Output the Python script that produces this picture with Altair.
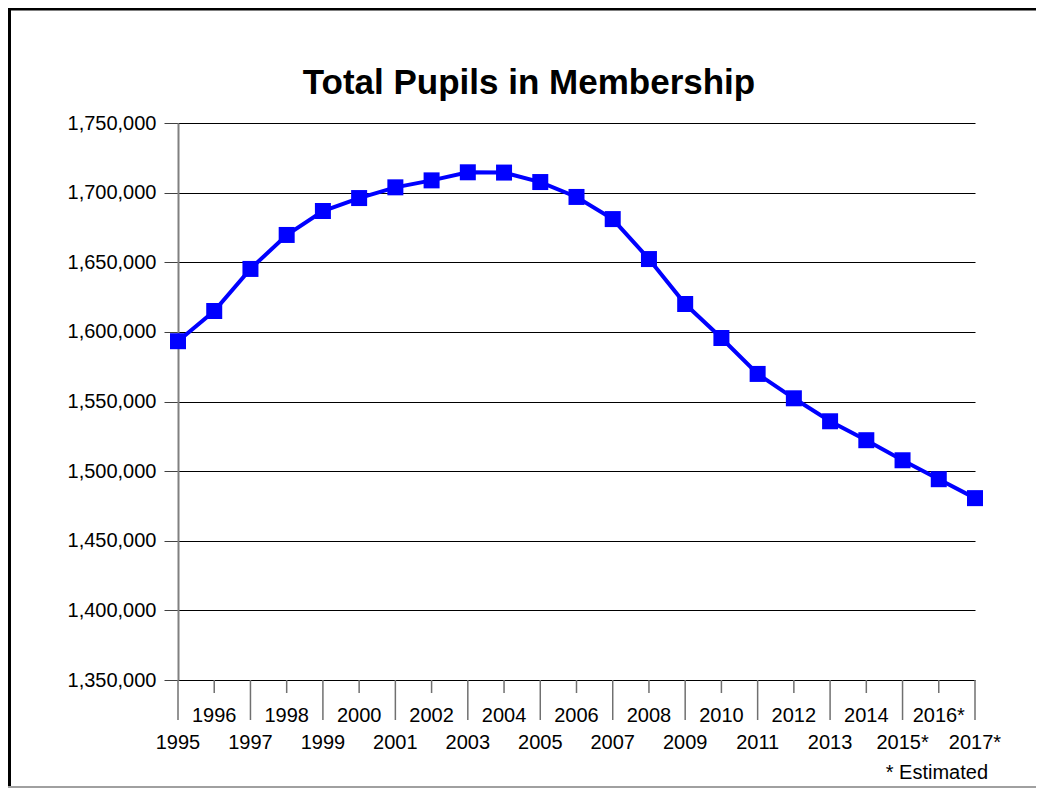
import altair as alt
import pandas as pd

years = ["1995", "1996", "1997", "1998", "1999", "2000", "2001", "2002", "2003",
         "2004", "2005", "2006", "2007", "2008", "2009", "2010", "2011", "2012",
         "2013", "2014", "2015*", "2016*", "2017*"]
pupils = [1593300, 1615000, 1645200, 1669600, 1686800, 1696100, 1703800, 1708800,
          1714600, 1714400, 1707600, 1696900, 1681000, 1652300, 1620000, 1595600,
          1569800, 1552300, 1535800, 1522200, 1507800, 1494200, 1480600]
y_ticks = [1350000, 1400000, 1450000, 1500000, 1550000, 1600000, 1650000, 1700000, 1750000]
title_text = "Total Pupils in Membership"
note_text = "* Estimated"

df = pd.DataFrame({"idx": list(range(len(years))), "year": years, "pupils": pupils})

W, H = 797, 557
FONT = "Liberation Sans"

xscale = alt.Scale(domain=[0, len(years) - 1], nice=False, zero=False)
yscale = alt.Scale(domain=[y_ticks[0], y_ticks[-1]], nice=False, zero=False)

yaxis = alt.Axis(values=y_ticks, format=",d", grid=True, gridColor="black",
                 gridWidth=1, gridOpacity=1, domainColor="#808080", domainWidth=2,
                 tickColor="#404040", tickSize=14, labelPadding=8,
                 labelFontSize=20, labelFont=FONT, labelColor="black",
                 labelOverlap=False, labelFlush=False, title=None)

X = alt.X("idx:Q", scale=xscale, axis=None)
Y = alt.Y("pupils:Q", scale=yscale, axis=yaxis)

base = alt.Chart(df)

line = base.mark_line(color="#0000FF", strokeWidth=4).encode(x=X, y=Y)
points = base.mark_point(shape="square", filled=True, size=256, opacity=1,
                         color="#0000FF").encode(x=X, y=Y)

long_ticks = base.transform_filter("datum.idx % 2 == 0").mark_rule(
    color="#707070", strokeWidth=1.5).encode(x=X, y=alt.value(H), y2=alt.value(H + 40))
short_ticks = base.transform_filter("datum.idx % 2 == 1").mark_rule(
    color="#707070", strokeWidth=1.5).encode(x=X, y=alt.value(H), y2=alt.value(H + 13))

upper_labels = base.transform_filter("datum.idx % 2 == 1").mark_text(
    font=FONT, fontSize=20, color="black", align="center", baseline="alphabetic").encode(
    x=X, y=alt.value(H + 42), text="year:N")
lower_labels = base.transform_filter("datum.idx % 2 == 0").mark_text(
    font=FONT, fontSize=20, color="black", align="center", baseline="alphabetic").encode(
    x=X, y=alt.value(H + 69), text="year:N")

title = alt.Chart(pd.DataFrame({"t": [title_text]})).mark_text(
    font=FONT, fontSize=35, fontWeight="bold", color="black", align="center",
    baseline="alphabetic").encode(x=alt.value(351), y=alt.value(-29), text="t:N")
note = alt.Chart(pd.DataFrame({"t": [note_text]})).mark_text(
    font=FONT, fontSize=20, color="black", align="right",
    baseline="alphabetic").encode(x=alt.value(810), y=alt.value(656), text="t:N")

frame_df = pd.DataFrame({"k": [0]})
border_top = alt.Chart(frame_df).mark_rule(color="black", strokeWidth=3).encode(
    x=alt.value(-170), x2=alt.value(870), y=alt.value(-114))
border_left = alt.Chart(frame_df).mark_rule(color="black", strokeWidth=3).encode(
    x=alt.value(-168.5), y=alt.value(-115), y2=alt.value(665))
border_bottom = alt.Chart(frame_df).mark_rule(color="#A0A0A0", strokeWidth=2).encode(
    x=alt.value(-170), x2=alt.value(870), y=alt.value(664))

chart = alt.layer(
    line, points, long_ticks, short_ticks, upper_labels, lower_labels,
    title, note, border_top, border_left, border_bottom
).properties(
    width=W, height=H,
    background="white",
    autosize=alt.AutoSizeParams(type="none"),
    padding={"left": 170, "top": 115, "right": 61, "bottom": 108},
).configure_view(stroke="transparent", strokeWidth=0)

chart.save("out.html", embed_options={"renderer": "svg", "actions": False})
